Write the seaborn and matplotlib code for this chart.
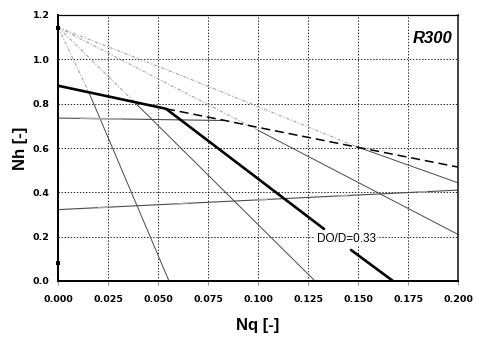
import matplotlib
matplotlib.use("Agg")
import matplotlib.pyplot as plt
import seaborn as sns
import numpy as np

# Operating envelope (thick line); the break leaves room for the label
env_nq_upper = [0.000, 0.054, 0.133]
env_nh_upper = [0.881, 0.777, 0.235]
env_nq_lower = [0.1465, 0.1675]
env_nh_lower = [0.140, 0.000]

# Upper limit continuation (dashed)
lim_nq = [0.054, 0.083, 0.100, 0.150, 0.200]
lim_nh = [0.777, 0.725, 0.693, 0.603, 0.514]

# Fan of curves from the shut-off head: light part above the envelope, dark below
fan_light = [
    ([0.000, 0.0155], [1.145, 0.850]),
    ([0.000, 0.039], [1.145, 0.800]),
    ([0.000, 0.100], [1.145, 0.680]),
    ([0.000, 0.065, 0.149], [1.145, 0.915, 0.607]),
]
fan_dark = [
    ([0.0155, 0.0555], [0.850, 0.000]),
    ([0.039, 0.1285], [0.800, 0.000]),
    ([0.100, 0.200], [0.680, 0.210]),
    ([0.149, 0.200], [0.607, 0.443]),
]

# Near-horizontal curves
top_nq = [0.000, 0.083]
top_nh = [0.735, 0.724]
top_hl_nq = [0.0115, 0.0315]
top_hl_nh = [0.734, 0.731]
low_nq = [0.000, 0.200]
low_nh = [0.322, 0.410]

# Points on the Nh axis
pt_nq = [0.000, 0.000]
pt_nh = [1.143, 0.080]

x_ticks = [0.000, 0.025, 0.050, 0.075, 0.100, 0.125, 0.150, 0.175, 0.200]
y_ticks = [0.0, 0.2, 0.4, 0.6, 0.8, 1.0, 1.2]

sns.set_theme(style="white")
plt.rcParams["font.family"] = ["DejaVu Sans"]
plt.rcParams["lines.scale_dashes"] = False
plt.rcParams["text.color"] = "black"
plt.rcParams["axes.labelcolor"] = "black"

fig = plt.figure(figsize=(4.79, 3.45), dpi=100)
ax = fig.add_axes([58 / 479, 1 - 281 / 345, 400 / 479, 266 / 345])

dark = "#4a4a4a"
light = "#a8a8a8"

for xs, ys in fan_light:
    sns.lineplot(x=xs, y=ys, ax=ax, sort=False, estimator=None, color=light,
                 linewidth=0.8, dashes=False, linestyle=(0, (2.5, 1.2, 0.8, 1.2)))
for xs, ys in fan_dark:
    sns.lineplot(x=xs, y=ys, ax=ax, sort=False, estimator=None, color=dark,
                 linewidth=0.7)

sns.lineplot(x=top_nq, y=top_nh, ax=ax, sort=False, estimator=None, color=dark, linewidth=0.8)
sns.lineplot(x=top_hl_nq, y=top_hl_nh, ax=ax, sort=False, estimator=None, color=light, linewidth=1.2)
sns.lineplot(x=low_nq, y=low_nh, ax=ax, sort=False, estimator=None, color=dark, linewidth=0.8)
ax.lines[-1].set_zorder(2)
sns.lineplot(x=low_nq, y=low_nh, ax=ax, sort=False, estimator=None, color=light, linewidth=1.2)
ax.lines[-1].set_linestyle((28.8, (7.2, 50.4)))

sns.lineplot(x=lim_nq, y=lim_nh, ax=ax, sort=False, estimator=None, color="black",
             linewidth=1.1)
ax.lines[-1].set_linestyle((0, (6.5, 3.5)))
sns.lineplot(x=env_nq_upper, y=env_nh_upper, ax=ax, sort=False, estimator=None,
             color="black", linewidth=1.9)
sns.lineplot(x=env_nq_lower, y=env_nh_lower, ax=ax, sort=False, estimator=None,
             color="black", linewidth=1.9)
sns.scatterplot(x=pt_nq, y=pt_nh, ax=ax, color="black", marker="s", s=5,
                linewidth=0, zorder=5, clip_on=False)

ax.set_xlim(0, 0.2)
ax.set_ylim(0, 1.2)
ax.set_xticks(x_ticks)
ax.set_yticks(y_ticks)
ax.set_xticklabels([f"{v:.3f}" for v in x_ticks], fontsize=6.8, fontweight="bold")
ax.set_yticklabels([f"{v:.1f}" for v in y_ticks], fontsize=6.8, fontweight="bold")
ax.tick_params(axis="x", length=3, width=0.8, color="#999999", pad=7, direction="out",
               bottom=True, labelcolor="black")
ax.tick_params(axis="y", length=0, pad=6, labelcolor="black")

ax.grid(True, color="black", linewidth=0.6, linestyle=(0, (1, 1.2)))
ax.set_axisbelow(True)

for side in ["left", "bottom"]:
    ax.spines[side].set_linewidth(1.4)
    ax.spines[side].set_color("black")
ax.spines["top"].set_linewidth(0.9)
ax.spines["top"].set_color("black")
ax.spines["right"].set_linewidth(1.2)
ax.spines["right"].set_color("#222222")

ax.set_xlabel("Nq [-]", fontsize=12, fontweight="bold", family="Liberation Sans",
              labelpad=10, color="black")
ax.set_ylabel("Nh [-]", fontsize=12, fontweight="bold", family="Liberation Sans",
              labelpad=3, color="black")

ax.text(0.197, 1.128, "R300", ha="right", va="top", fontsize=12, fontweight="bold",
        fontstyle="italic", family="Liberation Sans", color="black")
ax.text(0.1440, 0.190, "DO/D=0.33", ha="center", va="center", fontsize=8.5,
        family="Liberation Sans", zorder=6, color="black",
        bbox=dict(facecolor="white", edgecolor="none", pad=1.0))

fig.savefig("out.png", dpi=100)
